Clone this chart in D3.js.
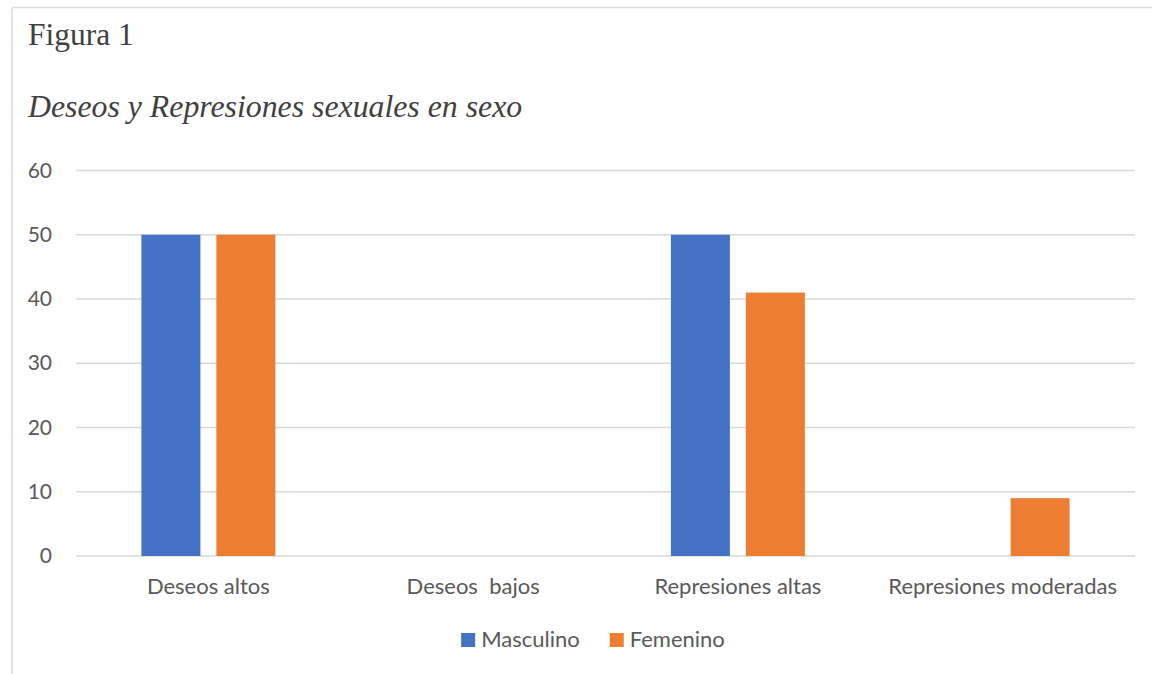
<!DOCTYPE html>
<html>
<head>
<meta charset="utf-8">
<script src="https://cdn.jsdelivr.net/npm/d3@7"></script>
<style>
  body { margin: 0; background: #fff; }
  text { white-space: pre; }
</style>
</head>
<body>
<script>
// chart values
var categories = ["Deseos altos", "Deseos  bajos", "Represiones altas", "Represiones moderadas"];
var seriesNames = ["Masculino", "Femenino"];
var masculino = [50, 0, 50, 0];
var femenino = [50, 0, 41, 9];
var yTicks = [0, 10, 20, 30, 40, 50, 60];
var colors = ["#4472C4", "#ED7D31"];

var width = 1152;
var height = 674;
var plot = { left: 76, right: 1135, top: 170.5, bottom: 556 };
var labelFont = "Lato, 'Open Sans', sans-serif";
var serif = "'Liberation Serif', 'Times New Roman', serif";

var svg = d3
  .select("body")
  .append("svg")
  .attr("width", width)
  .attr("height", height);

// frame lines (top and left, as in the scanned page)
svg
  .append("line")
  .attr("x1", 12).attr("x2", width).attr("y1", 7.5).attr("y2", 7.5)
  .attr("stroke", "#dcdcdc").attr("stroke-width", 1.5);
svg
  .append("line")
  .attr("x1", 12).attr("x2", 12).attr("y1", 7.5).attr("y2", height)
  .attr("stroke", "#dcdcdc").attr("stroke-width", 1.5);

svg
  .append("text")
  .text("Figura 1")
  .attr("x", 28)
  .attr("y", 45)
  .style("font-family", serif)
  .style("font-size", "31.5px")
  .style("fill", "#404040");

svg
  .append("text")
  .text("Deseos y Represiones sexuales en sexo")
  .attr("x", 28)
  .attr("y", 117)
  .style("font-family", serif)
  .style("font-style", "italic")
  .style("font-size", "31.8px")
  .style("fill", "#404040");

var yScale = d3
  .scaleLinear()
  .domain([0, 60])
  .range([plot.bottom, plot.top]);

var xScale = d3
  .scaleBand()
  .domain(categories)
  .range([plot.left, plot.right]);

// inner band for the two series inside each category
var groupWidth = xScale.bandwidth() * 0.506;
var xInner = d3
  .scaleBand()
  .domain(seriesNames)
  .range([0, groupWidth])
  .paddingInner(0.213);

// gridlines
svg
  .append("g")
  .attr("class", "grid")
  .selectAll("line")
  .data(yTicks)
  .enter()
  .append("line")
  .attr("x1", plot.left)
  .attr("x2", plot.right)
  .attr("y1", function (d) { return yScale(d); })
  .attr("y2", function (d) { return yScale(d); })
  .attr("stroke", "#d9d9d9")
  .attr("stroke-width", 1.4);

var yAxis = d3
  .axisLeft(yScale)
  .tickValues(yTicks)
  .tickSize(0)
  .tickPadding(24);
svg
  .append("g")
  .attr("transform", "translate(" + plot.left + ",0)")
  .call(yAxis)
  .call(function (g) { g.select(".domain").remove(); })
  .selectAll("text")
  .style("font-family", labelFont)
  .style("font-size", "21px")
  .style("fill", "#595959");

var xAxis = d3.axisBottom(xScale).tickSize(0).tickPadding(22);
svg
  .append("g")
  .attr("transform", "translate(0," + plot.bottom + ")")
  .call(xAxis)
  .call(function (g) { g.select(".domain").remove(); })
  .selectAll("text")
  .style("font-family", labelFont)
  .style("font-size", "22px")
  .style("fill", "#595959");

var rows = categories.map(function (c, i) {
  return { category: c, values: [masculino[i], femenino[i]] };
});

var groups = svg
  .append("g")
  .attr("class", "bars")
  .selectAll("g")
  .data(rows)
  .enter()
  .append("g")
  .attr("transform", function (d) {
    var x0 = xScale(d.category) + (xScale.bandwidth() - groupWidth) / 2;
    return "translate(" + x0 + ",0)";
  });

groups
  .selectAll("rect")
  .data(function (d) {
    return d.values.map(function (v, j) {
      return { name: seriesNames[j], value: v, color: colors[j] };
    });
  })
  .enter()
  .append("rect")
  .attr("x", function (d) { return xInner(d.name); })
  .attr("width", xInner.bandwidth())
  .attr("y", function (d) { return yScale(d.value); })
  .attr("height", function (d) { return yScale(0) - yScale(d.value); })
  .style("fill", function (d) { return d.color; });

// legend, centred under the chart
var legend = svg.append("g").attr("class", "legend");
var items = legend
  .selectAll("g")
  .data(seriesNames)
  .enter()
  .append("g");
items
  .append("rect")
  .attr("width", 14)
  .attr("height", 14)
  .attr("y", -14)
  .style("fill", function (d, i) { return colors[i]; });
items
  .append("text")
  .text(function (d) { return d; })
  .attr("x", 20)
  .attr("y", 0)
  .style("font-family", labelFont)
  .style("font-size", "22px")
  .style("fill", "#595959");

var offset = 0;
var itemGap = 30;
items.each(function () {
  var w = 20 + d3.select(this).select("text").node().getComputedTextLength();
  d3.select(this).attr("transform", "translate(" + offset + ",0)");
  offset += w + itemGap;
});
var legendWidth = offset - itemGap;
legend.attr("transform", "translate(" + (593 - legendWidth / 2) + ",647)");
</script>
</body>
</html>
